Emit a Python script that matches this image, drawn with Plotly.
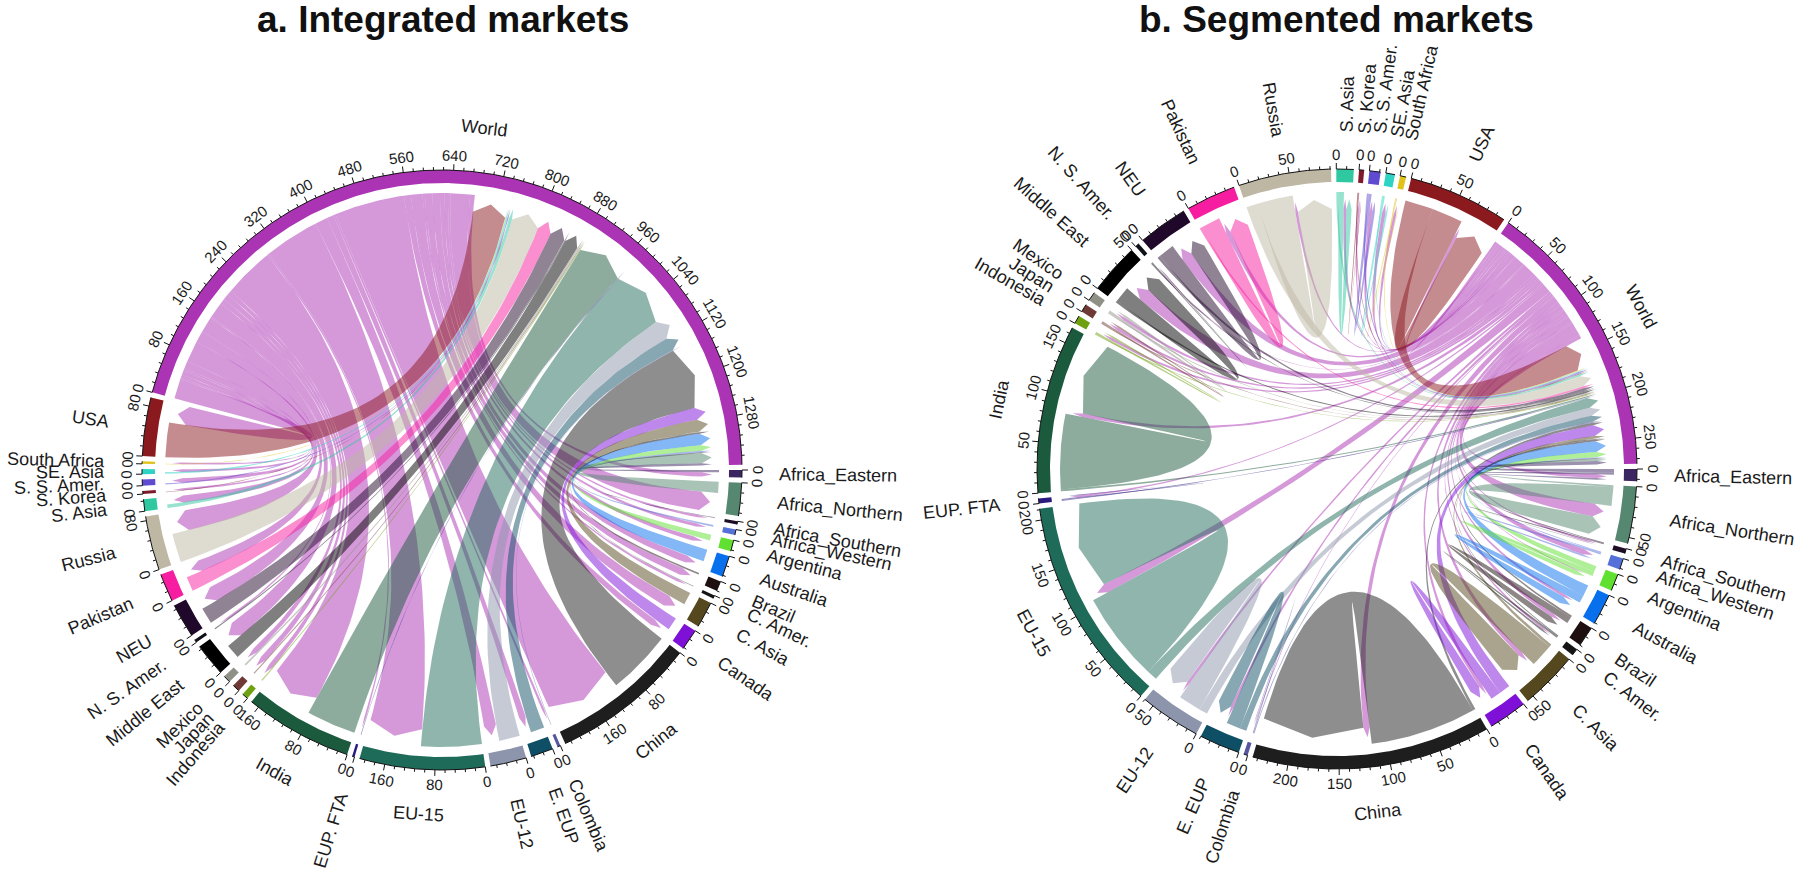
import numpy as np
import plotly.graph_objects as go

# ---------- data ----------
regions = ["Africa_Eastern", "Africa_Northern", "Africa_Southern", "Africa_Western", "Argentina",
           "Australia", "Brazil", "C. Amer.", "C. Asia", "Canada", "China", "Colombia", "E. EUP",
           "EU-12", "EU-15", "EUP. FTA", "India", "Indonesia", "Japan", "Mexico", "Middle East",
           "N. S. Amer.", "NEU", "Pakistan", "Russia", "S. Asia", "S. Korea", "S. S. Amer.",
           "SE. Asia", "South Africa", "USA"]
region_colors = ["#3A2560", "#568770", "#1F0D25", "#5570D8", "#60E030", "#0870EC", "#1E1010", "#151515",
                 "#55481E", "#7E10D8", "#1E1E1E", "#5555A0", "#0F4F66", "#8C95AB", "#1F6B5A", "#2A1A80",
                 "#1C5A3E", "#6FA010", "#6F3A35", "#8F9187", "#000000", "#101018", "#20082A", "#F71DA0",
                 "#BDB7A4", "#2FC8A0", "#7F1A2A", "#5F4BD0", "#2FD3C3", "#E0C31A", "#8B1A1F"]
world_color = "#AB34B5"
tangential_labels = ["World", "China", "EU-15", "India"]

# a. Integrated markets: flow to World, flow from World
a_export = [4, 19, 1, 3, 10, 21, 3, 1, 22, 22, 112, 1, 24, 36, 105, 1, 86, 2, 2, 3, 25, 2, 28, 25, 50, 6, 1, 2, 3, 1, 60]
a_import = [8, 34, 4, 6, 8, 13, 13, 4, 20, 12, 122, 4, 12, 22, 96, 3, 88, 8, 10, 9, 28, 3, 27, 20, 37, 13, 4, 8, 5, 3, 34]
a_self = [0] * 31

# b. Segmented markets: flow to World, flow within region, flow from World
b_export = [4, 2, 1, 1, 6, 12, 2, 1, 3, 12, 3, 1, 7, 9, 11, 1, 2, 1, 1, 1, 2, 1, 3, 2, 12, 2, 1, 2, 1, 1, 30]
b_self = [2, 20, 1, 2, 5, 8, 7, 2, 24.5, 11, 112.5, 1, 15, 24, 95, 1, 80, 2, 2, 2.5, 17, 1, 17, 21, 38, 6, 1, 3, 2, 1, 33]
b_import = [4, 14, 2, 6, 1, 3, 4, 2, 5, 4, 7, 1, 3, 3, 10, 2, 4, 3, 3, 3, 14, 1, 12, 5, 3, 3, 2, 3, 4, 3, 3]

a_title = "a. Integrated markets"
b_title = "b. Segmented markets"

# ---------- style / layout ----------
GAP = 1.0
R_OUT, R_IN, R_FLAT, R_WING, R_TIP = 300, 287, 277, 260, 270
FONT = "Liberation Sans, Arial, sans-serif"
W, H = 1800, 871
ARIAL = {" ": 278, ".": 278, "-": 333, "_": 556, "A": 667, "B": 667, "C": 722, "E": 667, "F": 611, "I": 278,
         "J": 500, "K": 667, "M": 833, "N": 722, "P": 667, "R": 722, "S": 667, "T": 611, "U": 722, "W": 944,
         "a": 556, "b": 556, "c": 500, "d": 556, "e": 556, "f": 278, "g": 556, "h": 556, "i": 222, "j": 222,
         "k": 500, "l": 222, "m": 833, "n": 556, "o": 556, "p": 556, "r": 333, "s": 500, "t": 278, "u": 556,
         "w": 722, "x": 500, "y": 500, "z": 500}


def rgba(hex_color, alpha):
    h = hex_color.lstrip("#")
    return f"rgba({int(h[0:2],16)},{int(h[2:4],16)},{int(h[4:6],16)},{alpha})"


def text_width(s, size):
    return sum(ARIAL.get(c, 556) for c in s) * size / 1000


def panel(cx, cy, export, own, imp, major):
    traces, notes = [], []
    minor = major / 5
    sizes = [e + 2 * s + i for e, s, i in zip(export, own, imp)]
    world_size = sum(export) + sum(imp)
    all_names = regions + ["World"]
    all_colors = region_colors + [world_color]
    all_sizes = sizes + [world_size]
    unit = (360 - GAP * len(all_names)) / sum(all_sizes)

    def pt(r, deg):
        t = np.radians(deg)
        return cx + r * np.cos(t), cy + r * np.sin(t)

    def arc(r, d0, d1, n=None):
        n = n or max(2, int(abs(d1 - d0) * 2) + 2)
        d = np.linspace(d0, d1, n)
        t = np.radians(d)
        return list(cx + r * np.cos(t)), list(cy + r * np.sin(t))

    def bez(p0, p1, n=50):
        t = np.linspace(0, 1, n)[1:-1]
        x = (1 - t) ** 2 * p0[0] + 2 * t * (1 - t) * cx + t ** 2 * p1[0]
        y = (1 - t) ** 2 * p0[1] + 2 * t * (1 - t) * cy + t ** 2 * p1[1]
        return list(x), list(y)

    def chord(a0, a1, b0, b1, color):
        xs, ys = arc(R_FLAT, a0, a1)
        p0 = (xs[-1], ys[-1])
        head = [pt(R_WING, b0), pt(R_TIP, (b0 + b1) / 2), pt(R_WING, b1)]
        bx, by = bez(p0, head[0])
        xs += bx; ys += by
        xs += [p[0] for p in head]; ys += [p[1] for p in head]
        bx, by = bez(head[-1], (xs[0], ys[0]))
        xs += bx; ys += by
        traces.append(go.Scatter(x=xs, y=ys, mode="lines", fill="toself", fillcolor=rgba(color, 0.5),
                                 line=dict(width=0), hoverinfo="skip", showlegend=False))

    # sector start angles
    starts, pos = [], 0.0
    for s in all_sizes:
        starts.append(pos)
        pos += s * unit + GAP

    # links
    w0 = starts[-1]
    n = len(regions)
    order = list(range(n - 1, -1, -1))
    out_pos, in_pos = {}, {}
    cur = w0
    for i in order:
        out_pos[i] = (cur, cur + imp[i] * unit)
        cur += imp[i] * unit
    for i in order:
        in_pos[i] = (cur, cur + export[i] * unit)
        cur += export[i] * unit

    for i in order:  # World -> region
        d = starts[i] + (export[i] + own[i]) * unit
        chord(out_pos[i][0], out_pos[i][1], d, d + imp[i] * unit, world_color)
    for i in order:  # region -> World, region -> region
        d = starts[i]
        chord(d, d + export[i] * unit, in_pos[i][0], in_pos[i][1], region_colors[i])
        if own[i] > 0:
            f0 = d + export[i] * unit
            f1 = f0 + own[i] * unit
            h0 = f1 + imp[i] * unit
            chord(f0, f1, h0, h0 + own[i] * unit, region_colors[i])

    # ring, axis, ticks, labels
    lx, ly = [], []
    for name, col, size, st in zip(all_names, all_colors, all_sizes, starts):
        en = st + size * unit
        x1, y1 = arc(R_OUT, st, en)
        x2, y2 = arc(R_IN, en, st)
        traces.append(go.Scatter(x=x1 + x2, y=y1 + y2, mode="lines", fill="toself", fillcolor=col,
                                 line=dict(width=0), hoverinfo="skip", showlegend=False))
        lx += x1 + [None]; ly += y1 + [None]
        for k in range(int(size // minor) + 1):
            v = k * minor
            d = st + v * unit
            is_major = k % 5 == 0
            a = pt(R_OUT, d); b = pt(R_OUT + (6 if is_major else 3), d)
            lx += [a[0], b[0], None]; ly += [a[1], b[1], None]
            if is_major:
                p = pt(R_OUT + 15, d)
                rot = ((d + 90 + 90) % 180) - 90
                notes.append(dict(x=p[0], y=p[1], text=str(int(v)), textangle=rot, showarrow=False,
                                  xref="x", yref="y", xanchor="center", yanchor="middle",
                                  font=dict(family=FONT, size=15, color="#1a1a1a")))
        mid = (st + en) / 2
        if name in tangential_labels:
            p = pt(345, mid)
            rot = ((mid + 90 + 90) % 180) - 90
        else:
            p = pt(337 + text_width(name, 18) / 2, mid)
            rot = ((mid + 90) % 180) - 90
        notes.append(dict(x=p[0], y=p[1], text=name, textangle=rot, showarrow=False, xref="x", yref="y",
                          xanchor="center", yanchor="middle",
                          font=dict(family=FONT, size=18, color="#1a1a1a")))
    traces.append(go.Scatter(x=lx, y=ly, mode="lines", line=dict(color="#111111", width=1),
                             hoverinfo="skip", showlegend=False))
    return traces, notes


t1, n1 = panel(442, 470, a_export, a_self, a_import, 80)
t2, n2 = panel(1337, 469, b_export, b_self, b_import, 50)

titles = [dict(x=443, y=19, text=f"<b>{a_title}</b>", showarrow=False, xref="x", yref="y",
               font=dict(family=FONT, size=37, color="#111111")),
          dict(x=1336, y=19, text=f"<b>{b_title}</b>", showarrow=False, xref="x", yref="y",
               font=dict(family=FONT, size=37, color="#111111"))]

fig = go.Figure(t1 + t2)
fig.update_layout(width=W, height=H, margin=dict(l=0, r=0, t=0, b=0), paper_bgcolor="white", plot_bgcolor="white",
                  showlegend=False, annotations=n1 + n2 + titles,
                  xaxis=dict(range=[0, W], visible=False, fixedrange=True),
                  yaxis=dict(range=[H, 0], visible=False, fixedrange=True))
fig.write_html("out.html", config=dict(displayModeBar=False),
               post_script="document.body.style.margin='0';document.body.style.overflow='hidden';")
